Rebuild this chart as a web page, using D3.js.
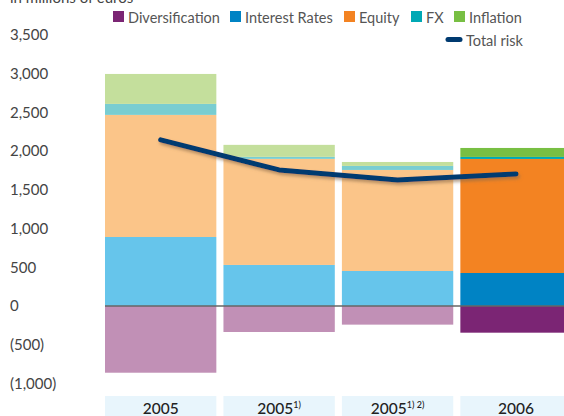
<!DOCTYPE html>
<html>
<head>
<meta charset="utf-8">
<script src="https://cdn.jsdelivr.net/npm/d3@7"></script>
<style>
  html, body { margin: 0; padding: 0; background: #fff; }
  svg { display: block; font-family: Lato, "Open Sans", sans-serif; }
</style>
</head>
<body>
<svg id="chart" width="564" height="416"></svg>
<script>
// Risk capital by risk type, in millions of euros
const categories = ["2005", "2005a", "2005b", "2006"];
const categoryLabels = ["2005", "2005", "2005", "2006"];
const categoryNotes = ["", "1)", "1) 2)", ""];
const seriesNames = ["Diversification", "Interest Rates", "Equity", "FX", "Inflation"];
const diversification = [-862, -336, -241, -345];
const interestRates = [891, 530, 452, 426];
const equity = [1577, 1370, 1305, 1473];
const fx = [142, 26, 52, 26];
const inflation = [387, 155, 51, 116];
const totalRisk = [2145, 1757, 1628, 1705];
const yTicks = [-1000, -500, 0, 500, 1000, 1500, 2000, 2500, 3000, 3500];

// full colours for the latest year, faded for the earlier ones
const fullColors = ["#7b2574", "#0083c4", "#f38322", "#00a8b4", "#78bf43"];
const fadedColors = ["#c190b6", "#66c5eb", "#fbc589", "#79cdd1", "#c4df9c"];
const lineColor = "#003a70";

const svg = d3.select("#chart");

const x = d3.scaleBand().domain(categories).range([105, 571.7]).paddingInner(0.06).paddingOuter(0);
const y = d3.scaleLinear().domain([-1000, 3500]).range([383.4, 35]);

const defs = svg.append("defs");
const f = defs.append("filter").attr("id", "shadow").attr("x", "-10%").attr("y", "-50%").attr("width", "130%").attr("height", "250%");
f.append("feDropShadow").attr("dx", 1.5).attr("dy", 2.5).attr("stdDeviation", 1.6)
  .attr("flood-color", "#8a6a4a").attr("flood-opacity", 0.6);

// stacked rows
const rows = categories.map((c, i) => ({
  cat: c,
  i,
  vals: [diversification[i], interestRates[i], equity[i], fx[i], inflation[i]]
}));

const barG = svg.append("g");
rows.forEach(r => {
  let pos = 0;
  r.vals.forEach((v, k) => {
    let y0, y1;
    if (v < 0) { y0 = v; y1 = 0; }
    else { y0 = pos; y1 = pos + v; pos = y1; }
    barG.append("rect")
      .attr("x", x(r.cat))
      .attr("width", x.bandwidth())
      .attr("y", y(y1))
      .attr("height", y(y0) - y(y1))
      .attr("fill", r.i === 3 ? fullColors[k] : fadedColors[k]);
  });
});

// zero line
svg.append("line")
  .attr("x1", x(categories[0])).attr("x2", 564)
  .attr("y1", y(0)).attr("y2", y(0))
  .attr("stroke", "#666").attr("stroke-width", 1.6);

// total risk line
const line = d3.line()
  .x((d, i) => x(categories[i]) + x.bandwidth() / 2)
  .y(d => y(d));
svg.append("path")
  .datum(totalRisk)
  .attr("d", line)
  .attr("fill", "none")
  .attr("stroke", lineColor)
  .attr("stroke-width", 5)
  .attr("stroke-linecap", "round")
  .attr("stroke-linejoin", "round")
  .attr("filter", "url(#shadow)");

// y axis labels
const fmt = v => v < 0 ? "(" + d3.format(",")(-v) + ")" : d3.format(",")(v);
const yAxis = svg.append("g")
  .call(d3.axisLeft(y).tickValues(yTicks).tickSize(0).tickFormat(fmt));
yAxis.select(".domain").remove();
yAxis.selectAll("text")
  .attr("x", 10)
  .attr("text-anchor", "start")
  .attr("fill", "#444")
  .style("font-family", "Lato, sans-serif")
  .style("font-size", "15px");

// unit title, running off the top edge
svg.append("text")
  .attr("x", 10).attr("y", 3)
  .attr("fill", "#444")
  .style("font-size", "15px")
  .text("in millions of euros");

// category labels on tinted boxes
const xg = svg.append("g");
rows.forEach(r => {
  xg.append("rect")
    .attr("x", x(r.cat)).attr("y", 396)
    .attr("width", x.bandwidth()).attr("height", 24)
    .attr("fill", "#e8f5fc");
  const t = xg.append("text")
    .attr("x", x(r.cat) + x.bandwidth() / 2)
    .attr("y", 414)
    .attr("text-anchor", "middle")
    .attr("fill", "#222")
    .style("font-size", "15.5px")
    .style("font-weight", 500);
  t.append("tspan").text(categoryLabels[r.i]);
  if (categoryNotes[r.i]) {
    t.append("tspan")
      .attr("dy", -6)
      .style("font-size", "9px")
      .text(categoryNotes[r.i]);
  }
});

// legend
const legendX = [113, 230, 344, 411, 454];
const lg = svg.append("g");
seriesNames.forEach((n, k) => {
  lg.append("rect")
    .attr("x", legendX[k]).attr("y", 11)
    .attr("width", 11).attr("height", 11)
    .attr("fill", fullColors[k]);
  lg.append("text")
    .attr("x", legendX[k] + 15).attr("y", 22.5)
    .attr("fill", "#555")
    .style("font-size", "14.5px")
    .text(n);
});
lg.append("line")
  .attr("x1", 448).attr("x2", 460)
  .attr("y1", 39.5).attr("y2", 39.5)
  .attr("stroke", lineColor).attr("stroke-width", 5)
  .attr("stroke-linecap", "round");
lg.append("text")
  .attr("x", 466).attr("y", 45.5)
  .attr("fill", "#555")
  .style("font-size", "14.5px")
  .text("Total risk");
</script>
</body>
</html>
